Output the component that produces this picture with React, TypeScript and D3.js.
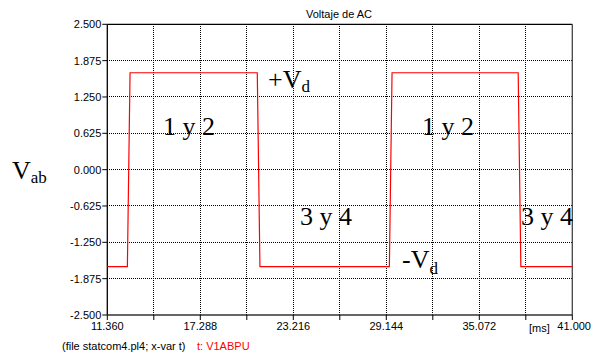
import React from "react";
import * as d3 from "d3";

// Waveform samples: time [ms], voltage [pu]
const times = [11.36, 12.64, 12.81, 20.92, 21.09, 29.34, 29.51, 37.55, 37.72, 41.0];
const volts = [-1.667, -1.667, 1.667, 1.667, -1.667, -1.667, 1.667, 1.667, -1.667, -1.667];

const yTicks = [-2.5, -1.875, -1.25, -0.625, 0, 0.625, 1.25, 1.875, 2.5];
const xTicks = [11.36, 14.324, 17.288, 20.252, 23.216, 26.18, 29.144, 32.108, 35.072, 38.036, 41.0];
const xLabels = ["11.360", "", "17.288", "", "23.216", "", "29.144", "", "35.072", "", ""];

const W = 591;
const H = 356;
const left = 107.3;
const right = 572.3;
const top = 24.3;
const bottom = 315;

export default function App() {
  const x = d3.scaleLinear().domain([11.36, 41.0]).range([left, right]);
  const y = d3.scaleLinear().domain([-2.5, 2.5]).range([bottom, top]);
  const pts = times.map((t, i) => [t, volts[i]] as [number, number]);
  const line = d3
    .line<[number, number]>()
    .x((d) => x(d[0]))
    .y((d) => y(d[1]));

  const sans = "Liberation Sans, Arial, sans-serif";
  const serif = "Liberation Serif, Times New Roman, serif";

  return (
    <div style={{ position: "absolute", left: 0, top: 0 }}>
      <svg width={W} height={H} style={{ display: "block", background: "#fff" }}>
        {/* grid */}
        {yTicks.slice(1, -1).map((v) => (
          <line key={"gy" + v} x1={left} x2={right} y1={y(v)} y2={y(v)}
            stroke="#000" strokeWidth={1} strokeDasharray="1,1" shapeRendering="crispEdges" />
        ))}
        {xTicks.slice(1, -1).map((v) => (
          <line key={"gx" + v} x1={x(v)} x2={x(v)} y1={top} y2={bottom}
            stroke="#000" strokeWidth={1} strokeDasharray="1,1" shapeRendering="crispEdges" />
        ))}
        {/* frame */}
        <line x1={left} x2={right} y1={top} y2={top} stroke="#000" strokeWidth={1.3} />
        <line x1={right} x2={right} y1={top} y2={bottom} stroke="#444" strokeWidth={1.3} />
        <line x1={left} x2={left} y1={top} y2={bottom} stroke="#000" strokeWidth={1.3} />
        <line x1={left} x2={right} y1={bottom} y2={bottom} stroke="#333" strokeWidth={1.5} />
        {/* y ticks */}
        {yTicks.map((v) => (
          <g key={"ty" + v}>
            <line x1={left - 5} x2={left} y1={y(v)} y2={y(v)} stroke="#000" strokeWidth={1} />
            <text x={left - 6} y={y(v) + 4} textAnchor="end" fontFamily={sans} fontSize={11} fill="#000">
              {v.toFixed(3)}
            </text>
          </g>
        ))}
        {/* x ticks */}
        {xTicks.map((v, i) => (
          <g key={"tx" + v}>
            <line x1={x(v)} x2={x(v)} y1={bottom} y2={bottom + 5} stroke="#000" strokeWidth={1} />
            {xLabels[i] && (
              <text x={x(v)} y={bottom + 15} textAnchor="middle" fontFamily={sans} fontSize={11} fill="#000">
                {xLabels[i]}
              </text>
            )}
          </g>
        ))}
        <text x={591} y={bottom + 15} textAnchor="end" fontFamily={sans} fontSize={11} fill="#000">41.000</text>
        <text x={529} y={bottom + 17} fontFamily={sans} fontSize={11} fill="#000">[ms]</text>
        {/* title and footer */}
        <text x={339} y={18} textAnchor="middle" fontFamily={sans} fontSize={11} fill="#000">Voltaje de AC</text>
        <text x={62} y={350} fontFamily={sans} fontSize={11} fill="#000">(file statcom4.pl4; x-var t)</text>
        <text x={197} y={350} fontFamily={sans} fontSize={11} fill="#ff0000">t: V1ABPU</text>
        {/* waveform */}
        <path d={line(pts) ?? ""} fill="none" stroke="#ff0000" strokeWidth={1.2} />
        {/* annotations */}
        <text x={12} y={179} fontFamily={serif} fontSize={26} fill="#000">
          V<tspan fontSize={17} dy={4}>ab</tspan>
        </text>
        <text x={268} y={88} fontFamily={serif} fontSize={26} fill="#000">
          +V<tspan fontSize={17} dy={4}>d</tspan>
        </text>
        <text x={402} y={268} fontFamily={serif} fontSize={26} fill="#000">
          -V<tspan fontSize={17} dy={6}>d</tspan>
        </text>
        <text x={163} y={135} fontFamily={serif} fontSize={26} fill="#000">1 y 2</text>
        <text x={422} y={135} fontFamily={serif} fontSize={26} fill="#000">1 y 2</text>
        <text x={300} y={225} fontFamily={serif} fontSize={26} fill="#000">3 y 4</text>
        <text x={521} y={225} fontFamily={serif} fontSize={26} fill="#000">3 y 4</text>
      </svg>
    </div>
  );
}
